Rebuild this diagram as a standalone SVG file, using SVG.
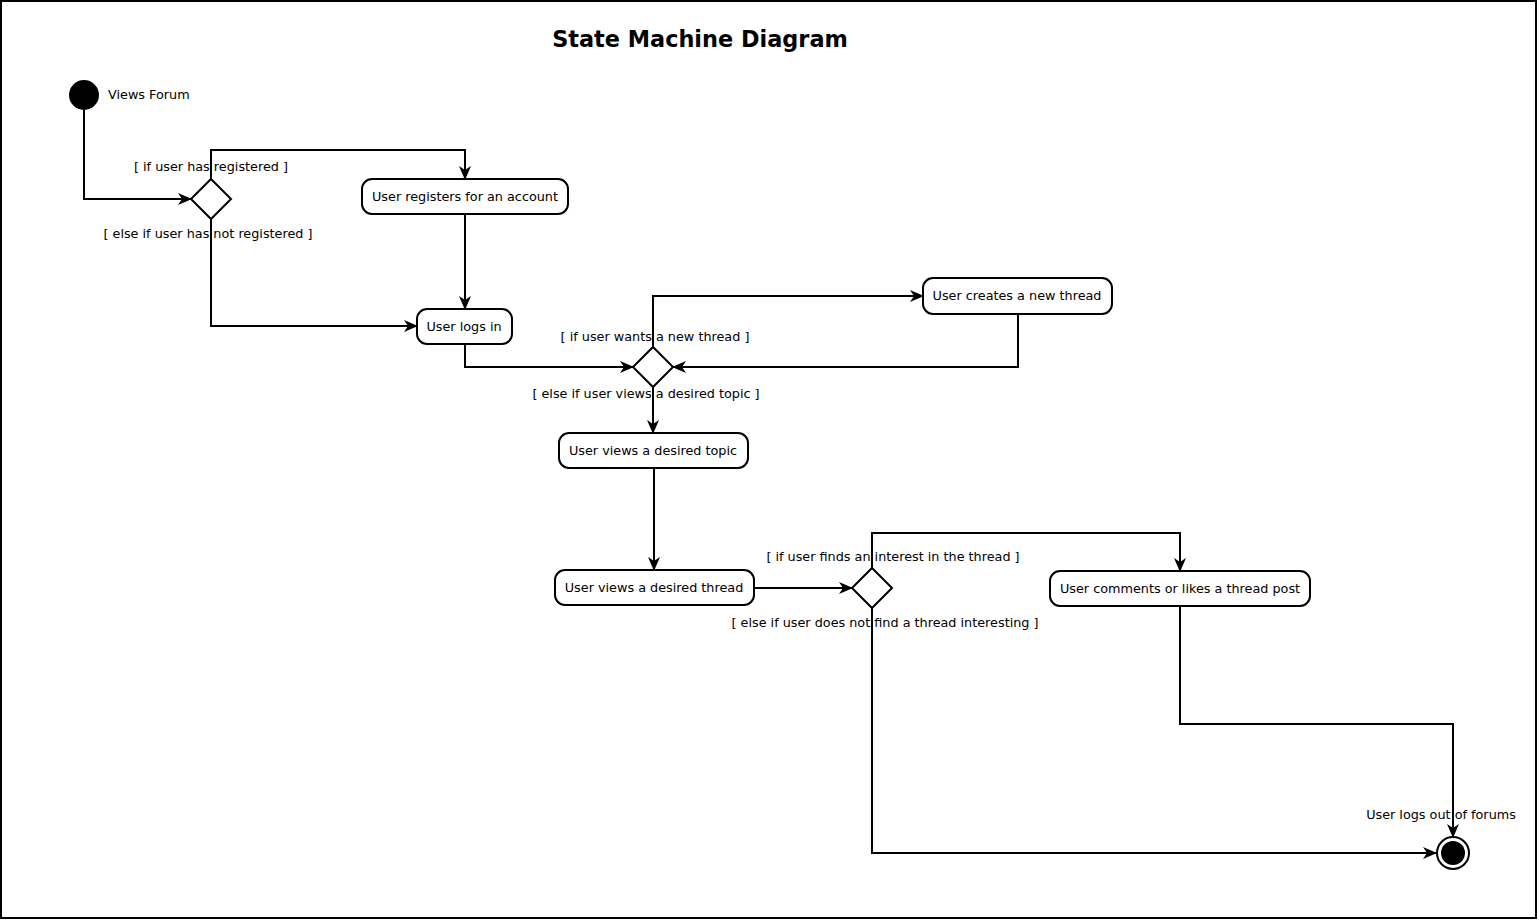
<svg xmlns="http://www.w3.org/2000/svg" width="1539" height="922" viewBox="0 0 1539 922">
<style>
text{font-family:"DejaVu Sans",Verdana,sans-serif;font-size:12.8px;fill:#000}
.t{font-size:22.4px;font-weight:bold}
.c{text-anchor:middle}
.st{fill:#fff;stroke:#000;stroke-width:2}
.e{fill:none;stroke:#000;stroke-width:2}
</style>
<defs>
<marker id="a" viewBox="0 0 14 12" refX="13" refY="6" markerWidth="14" markerHeight="12" markerUnits="userSpaceOnUse" orient="auto">
<path d="M0,0 L14,6 L0,12 L4,6 z" fill="#000"/>
</marker>
</defs>
<rect x="0" y="0" width="1539" height="922" fill="#fff"/>
<rect x="1" y="1" width="1535" height="917" fill="none" stroke="#000" stroke-width="2"/>
<text class="t c" x="700" y="47">State Machine Diagram</text>
<g id="connectors">
<path class="e" d="M84,110 V199 H191" marker-end="url(#a)"/>
<path class="e" d="M211,179 V150 H465 V179" marker-end="url(#a)"/>
<path class="e" d="M465,214 V309" marker-end="url(#a)"/>
<path class="e" d="M211,219 V326 H417" marker-end="url(#a)"/>
<path class="e" d="M465,344 V367 H633" marker-end="url(#a)"/>
<path class="e" d="M653,347 V296 H923" marker-end="url(#a)"/>
<path class="e" d="M1018,314 V367 H673" marker-end="url(#a)"/>
<path class="e" d="M653,387 V433" marker-end="url(#a)"/>
<path class="e" d="M654,468 V570" marker-end="url(#a)"/>
<path class="e" d="M754,588 H852" marker-end="url(#a)"/>
<path class="e" d="M872,568 V533 H1180 V571" marker-end="url(#a)"/>
<path class="e" d="M872,608 V853 H1436" marker-end="url(#a)"/>
<path class="e" d="M1180,606 V724 H1453 V837" marker-end="url(#a)"/>
</g>
<g id="initial">
<circle cx="84" cy="95" r="15" fill="#000"/>
<text x="108" y="99">Views Forum</text>
</g>
<g id="d1">
<path class="st" d="M211,179 L231,199 L211,219 L191,199 z"/>
<text class="c" x="211" y="171">[ if user has registered ]</text>
<text class="c" x="208" y="238">[ else if user has not registered ]</text>
</g>
<g id="register">
<rect class="st" x="362" y="179" width="206" height="35" rx="10"/>
<text class="c" x="465" y="201">User registers for an account</text>
</g>
<g id="login">
<rect class="st" x="417" y="309" width="95" height="35" rx="10"/>
<text class="c" x="464" y="331">User logs in</text>
</g>
<g id="d2">
<path class="st" d="M653,347 L673,367 L653,387 L633,367 z"/>
<text class="c" x="655" y="341">[ if user wants a new thread ]</text>
<text class="c" x="646" y="398">[ else if user views a desired topic ]</text>
</g>
<g id="newthread">
<rect class="st" x="923" y="278" width="189" height="36" rx="10"/>
<text class="c" x="1017" y="300">User creates a new thread</text>
</g>
<g id="topic">
<rect class="st" x="559" y="433" width="189" height="35" rx="10"/>
<text class="c" x="653" y="455">User views a desired topic</text>
</g>
<g id="thread">
<rect class="st" x="555" y="570" width="199" height="35" rx="10"/>
<text class="c" x="654" y="592">User views a desired thread</text>
</g>
<g id="d3">
<path class="st" d="M872,568 L892,588 L872,608 L852,588 z"/>
<text class="c" x="893" y="561">[ if user finds an interest in the thread ]</text>
<text class="c" x="885" y="627">[ else if user does not find a thread interesting ]</text>
</g>
<g id="comment">
<rect class="st" x="1050" y="571" width="260" height="35" rx="10"/>
<text class="c" x="1180" y="593">User comments or likes a thread post</text>
</g>
<g id="final">
<circle cx="1453" cy="853" r="16" fill="#fff" stroke="#000" stroke-width="2"/>
<circle cx="1453" cy="853" r="12" fill="#000"/>
<text class="c" x="1441" y="819">User logs out of forums</text>
</g>
</svg>
